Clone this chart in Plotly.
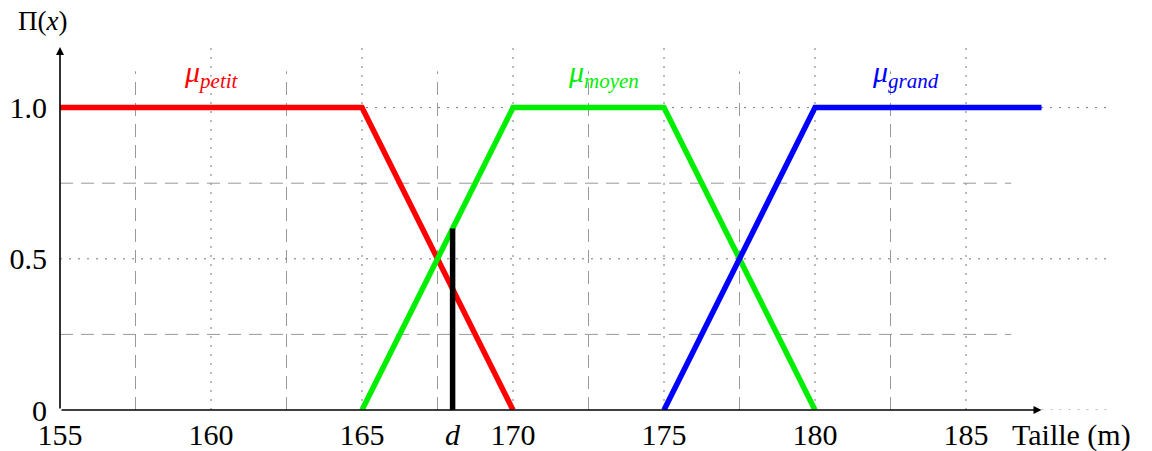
import plotly.graph_objects as go

# Data
petit_x = [155, 165, 170]
petit_y = [1, 1, 0]
moyen_x = [165, 170, 175, 180]
moyen_y = [0, 1, 1, 0]
grand_x = [175, 180, 187.5]
grand_y = [0, 1, 1]
d_value = 168
d_height = 0.6
x_ticks = [155, 160, 165, 170, 175, 180, 185]
y_ticks = [0, 0.5, 1.0]
y_tick_text = ["0", "0.5", "1.0"]
dotted_x = [160, 165, 170, 175, 180, 185]
dashed_x = [157.5, 162.5, 167.5, 172.5, 177.5, 182.5]
dashed_y = [0.25, 0.75]
dotted_y = [0.5, 1.0]

FONT = "Liberation Serif"
FS = 30
DOT = "#777777"
DASH = "#999999"
DOTSTYLE = "2px,7px"
DASHSTYLE = "13px,8px"

fig = go.Figure()

shapes = []
for xv in dotted_x:
    shapes.append(dict(type="line", x0=xv, x1=xv, y0=0, y1=1.22, xref="x", yref="y",
                       line=dict(color=DOT, width=1, dash=DOTSTYLE), layer="below"))
for xv in dashed_x:
    shapes.append(dict(type="line", x0=xv, x1=xv, y0=0, y1=1.12, xref="x", yref="y",
                       line=dict(color=DASH, width=1, dash=DASHSTYLE), layer="below"))
for yv in dashed_y:
    shapes.append(dict(type="line", x0=155, x1=186.5, y0=yv, y1=yv, xref="x", yref="y",
                       line=dict(color=DASH, width=1, dash=DASHSTYLE), layer="below"))
for yv in dotted_y:
    shapes.append(dict(type="line", x0=155, x1=189.8, y0=yv, y1=yv, xref="x", yref="y",
                       line=dict(color=DOT, width=1, dash=DOTSTYLE), layer="below"))
shapes.append(dict(type="line", x0=187.5, x1=189.8, y0=0, y1=0, xref="x", yref="y",
                   line=dict(color=DOT, width=1, dash=DOTSTYLE), layer="below"))

for xs, ys, col in [(petit_x, petit_y, "#ff0000"), (moyen_x, moyen_y, "#00ee00"), (grand_x, grand_y, "#0000ff")]:
    fig.add_trace(go.Scatter(x=xs, y=ys, mode="lines", line=dict(color=col, width=5.5),
                             showlegend=False, hoverinfo="skip", cliponaxis=False))

fig.add_trace(go.Scatter(x=[d_value, d_value], y=[0, d_height], mode="lines",
                         line=dict(color="black", width=5.5), showlegend=False,
                         hoverinfo="skip", cliponaxis=False))

annotations = []
# axes arrows
annotations.append(dict(x=187.5, y=0, ax=155, ay=0, xref="x", yref="y", axref="x", ayref="y",
                        showarrow=True, arrowhead=2, arrowsize=1, arrowwidth=1.6, arrowcolor="black", text=""))
annotations.append(dict(x=155, y=1.2, ax=155, ay=0, xref="x", yref="y", axref="x", ayref="y",
                        showarrow=True, arrowhead=2, arrowsize=1, arrowwidth=1.6, arrowcolor="black", text=""))
annotations.append(dict(x=-0.017, y=1.029, xref="paper", yref="paper", xanchor="center", yanchor="middle",
                        text="Π(<i>x</i>)", showarrow=False,
                        font=dict(family=FONT, size=27, color="black")))
annotations.append(dict(x=0.957, y=-0.066, xref="paper", yref="paper", xanchor="center", yanchor="middle",
                        text="Taille (m)", showarrow=False,
                        font=dict(family=FONT, size=FS, color="black")))
annotations.append(dict(x=160, y=1.11, xref="x", yref="y", xanchor="center", yanchor="middle",
                        text="<i>μ</i><sub><i>petit</i></sub>",
                        showarrow=False, font=dict(family=FONT, size=FS, color="#ff0000")))
annotations.append(dict(x=173, y=1.11, xref="x", yref="y", xanchor="center", yanchor="middle",
                        text="<i>μ</i><sub><i>moyen</i></sub>",
                        showarrow=False, font=dict(family=FONT, size=FS, color="#00ee00")))
annotations.append(dict(x=183, y=1.11, xref="x", yref="y", xanchor="center", yanchor="middle",
                        text="<i>μ</i><sub><i>grand</i></sub>",
                        showarrow=False, font=dict(family=FONT, size=FS, color="#0000ff")))

# the page body has an 8px margin; size the figure so the plot lands where the reference has it
fig.update_layout(
    width=1144, height=443,
    margin=dict(l=52, r=35, t=24, b=41),
    paper_bgcolor="white", plot_bgcolor="white",
    shapes=shapes, annotations=annotations,
    xaxis=dict(range=[155, 190], showgrid=False, zeroline=False, showline=False, automargin=False,
               tickvals=x_ticks + [d_value], ticktext=[str(v) for v in x_ticks] + ["<i>d</i>"],
               ticks="", ticklabelstandoff=4,
               tickfont=dict(family=FONT, size=FS, color="black")),
    yaxis=dict(range=[0, 1.25], showgrid=False, zeroline=False, showline=False, automargin=False,
               tickvals=y_ticks, ticktext=y_tick_text, ticks="", ticklabelstandoff=12,
               tickfont=dict(family=FONT, size=FS, color="black")),
)

fig.write_html("out.html")
